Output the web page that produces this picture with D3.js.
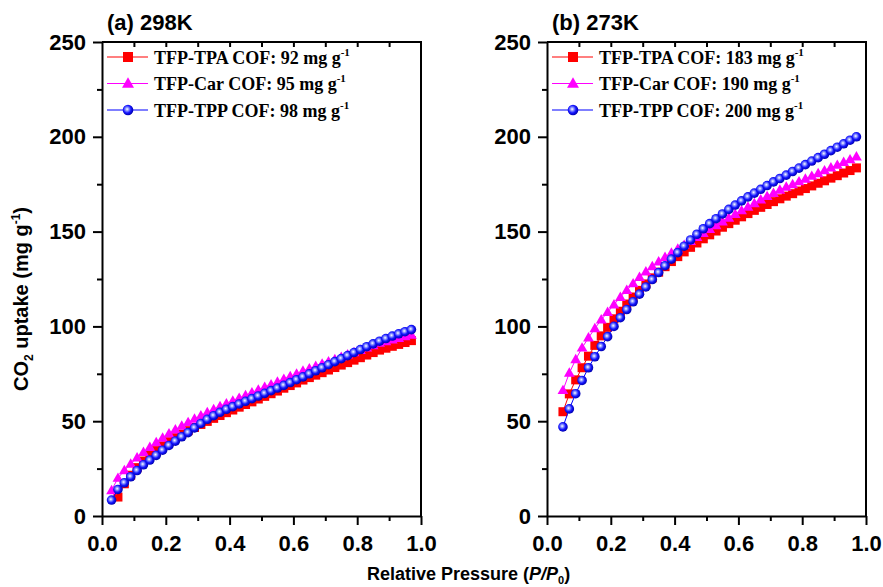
<!DOCTYPE html>
<html>
<head>
<meta charset="utf-8">
<script src="https://cdn.jsdelivr.net/npm/d3@7"></script>
<style>
  body { margin: 0; background: #fff; }
</style>
</head>
<body>
<div id="chart"></div>
<script>
// relative pressure (P/P0) for each isotherm
const pressureA = [0.03, 0.05, 0.07, 0.09, 0.11, 0.13, 0.15, 0.17, 0.19, 0.21, 0.23, 0.25, 0.27, 0.29, 0.31, 0.33,
    0.35, 0.37, 0.39, 0.41, 0.43, 0.45, 0.47, 0.49, 0.51, 0.53, 0.55, 0.57, 0.59, 0.61, 0.63, 0.65, 0.67, 0.69,
    0.71, 0.73, 0.75, 0.77, 0.79, 0.81, 0.83, 0.85, 0.87, 0.89, 0.91, 0.93, 0.95, 0.97];
const pressureATpa = pressureA.slice(1);
const pressureB = pressureA.slice(1);

// 298 K uptake (mg/g)
const tpaA = [10, 17, 21.5, 25.5, 29, 32, 34.5, 37, 39.2, 41.3, 43.2, 45, 46.7, 48.3, 49.9, 51.5, 53.0, 54.5,
    55.9, 57.4, 58.8, 60.2, 61.7, 63.1, 64.5, 65.9, 67.4, 68.8, 70.2, 71.7, 73.0, 74.3, 75.6, 77.0, 78.3, 79.6,
    80.9, 82.2, 83.5, 84.9, 86.2, 87.5, 88.5, 89.5, 90.5, 91.5, 92.5];
const carA = [13.5, 20, 24, 27.5, 30.8, 33.7, 36.3, 38.8, 41.2, 43.4, 45.5, 47.5, 49.4, 51.2, 52.9, 54.6, 56.2,
    57.8, 59.3, 60.7, 62.2, 63.6, 65.0, 66.5, 67.9, 69.3, 70.7, 72.2, 73.6, 75.0, 76.5, 77.7, 79.0, 80.2, 81.4,
    82.6, 83.8, 85.1, 86.3, 87.5, 88.7, 90.0, 91.2, 92.1, 93.0, 93.8, 94.7, 95.5];
const tppA = [8.4, 14, 17.5, 20.7, 24, 27, 29.5, 32, 34.7, 37.2, 39.5, 41.8, 44, 46.5, 48.8, 51, 52.9, 54.7,
    56.3, 57.7, 59.1, 60.5, 61.9, 63.3, 64.7, 66.1, 67.5, 68.9, 70.4, 71.9, 73.4, 75.0, 76.6, 78.2, 79.8, 81.4,
    83.0, 84.6, 86.2, 87.8, 89.3, 90.8, 92.2, 93.6, 94.9, 96.1, 97.2, 98.3];

// 273 K uptake (mg/g)
const tpaB = [55, 64.4, 71.8, 78.2, 84.3, 90, 95, 99.5, 104, 108, 111.8, 115.5, 119, 122.4, 125.6, 128.6, 131.5,
    134.2, 136.8, 139.3, 141.7, 144.0, 146.2, 148.3, 150.3, 152.3, 154.2, 156.0, 157.8, 159.5, 161.2, 162.8,
    164.3, 165.8, 167.3, 168.7, 170.0, 171.4, 172.7, 174.1, 175.5, 176.8, 178.2, 179.5, 180.9, 182.2, 183.6];
const carB = [66.3, 75.4, 82.6, 88.7, 94.0, 98.9, 103.5, 107.5, 111.5, 115.4, 119.1, 122.6, 126.0, 128.9, 131.6,
    134.1, 136.5, 138.7, 140.9, 142.9, 144.9, 147.0, 149.1, 151.2, 153.2, 155.2, 157.2, 159.2, 161.1, 163.0,
    164.9, 166.8, 168.6, 170.3, 172.0, 173.5, 174.9, 176.4, 177.8, 179.3, 180.7, 182.2, 183.7, 185.1, 186.6,
    188.0, 189.5];
const tppB = [47, 56.5, 64.5, 71.5, 78.2, 84, 89.4, 94.6, 100, 104.6, 108.9, 113, 117, 120.8, 124.7, 128.4, 132,
    135.5, 138.9, 142.3, 145.6, 148.6, 151.5, 154.2, 156.8, 159.3, 161.7, 164.0, 166.2, 168.3, 170.3, 172.3,
    174.3, 176.2, 178.0, 179.8, 181.7, 183.5, 185.3, 187.2, 189.0, 190.8, 192.7, 194.5, 196.3, 198.2, 200.0];

const seriesNames = ["TFP-TPA COF", "TFP-Car COF", "TFP-TPP COF"];
const capacityA = ["92", "95", "98"];
const capacityB = ["183", "190", "200"];
const xTicks = [0, 0.2, 0.4, 0.6, 0.8, 1.0];
const yTicks = [0, 50, 100, 150, 200, 250];

const colors = ["#ff0000", "#ff00ff", "#0000ff"];
const shapes = ["square", "triangle", "circle"];

const width = 883, height = 587;
const plotTop = 42, plotBottom = 516, plotW = 319;
const sans = "'Liberation Sans', Arial, sans-serif";
const serif = "'Liberation Serif', 'Times New Roman', serif";

const svg = d3.select("#chart").append("svg")
    .attr("width", width)
    .attr("height", height);

// shaded ball for the circle markers
const grad = svg.append("defs").append("radialGradient")
    .attr("id", "ball").attr("cx", "42%").attr("cy", "42%").attr("r", "58%");
grad.append("stop").attr("offset", "0%").attr("stop-color", "#ffffff");
grad.append("stop").attr("offset", "28%").attr("stop-color", "#8c95ff");
grad.append("stop").attr("offset", "62%").attr("stop-color", "#1515ff");
grad.append("stop").attr("offset", "100%").attr("stop-color", "#0000b0");

function drawMarker(g, shape, color, cx, cy, s) {
    if (shape === "square") {
        g.append("rect").attr("x", cx - s / 2).attr("y", cy - s / 2)
            .attr("width", s).attr("height", s).attr("fill", color);
    } else if (shape === "triangle") {
        const w = s * 1.2, h = s * 1.05;
        g.append("path")
            .attr("d", `M${cx},${cy - h * 0.6}L${cx + w / 2},${cy + h * 0.4}L${cx - w / 2},${cy + h * 0.4}Z`)
            .attr("fill", color);
    } else {
        g.append("circle").attr("cx", cx).attr("cy", cy).attr("r", s / 2 + 0.3)
            .attr("fill", "url(#ball)");
    }
}

const panels = [
    { x0: 102, title: "(a) 298K", caps: capacityA,
      series: [[pressureATpa, tpaA], [pressureA, carA], [pressureA, tppA]] },
    { x0: 547, title: "(b) 273K", caps: capacityB,
      series: [[pressureB, tpaB], [pressureB, carB], [pressureB, tppB]] }
];

panels.forEach(p => {
    const x = d3.scaleLinear().domain([0, 1]).range([p.x0, p.x0 + plotW]);
    const y = d3.scaleLinear().domain([0, 250]).range([plotBottom, plotTop]);
    const g = svg.append("g");

    // series: thin connecting line, then markers
    p.series.forEach(([px, py], i) => {
        const pts = px.map((v, k) => [v, py[k]]);
        g.append("path")
            .datum(pts)
            .attr("fill", "none")
            .attr("stroke", colors[i])
            .attr("stroke-width", 1)
            .attr("d", d3.line().x(d => x(d[0])).y(d => y(d[1])));
        const mg = g.append("g");
        pts.forEach(d => drawMarker(mg, shapes[i], colors[i], x(d[0]), y(d[1]), 9));
    });

    // frame
    g.append("path")
        .attr("d", `M${p.x0},${plotTop}H${p.x0 + plotW}V${plotBottom}`)
        .attr("fill", "none").attr("stroke", "#000").attr("stroke-width", 2);

    // top inner ticks
    const topAxis = g.append("g").attr("transform", `translate(0,${plotTop})`)
        .call(d3.axisBottom(x).tickValues(d3.range(1, 10).map(d => d / 10)).tickSize(5).tickFormat(""));
    topAxis.select(".domain").remove();

    // bottom axis
    const xMinor = g.append("g").attr("transform", `translate(0,${plotBottom})`)
        .call(d3.axisBottom(x).tickValues([0.1, 0.3, 0.5, 0.7, 0.9]).tickSize(5).tickFormat(""));
    xMinor.select(".domain").remove();
    const xAxis = g.append("g").attr("transform", `translate(0,${plotBottom})`)
        .call(d3.axisBottom(x).tickValues(xTicks).tickSize(9).tickSizeOuter(0).tickPadding(10)
            .tickFormat(d3.format(".1f")));

    // left axis
    const yMinor = g.append("g").attr("transform", `translate(${p.x0},0)`)
        .call(d3.axisLeft(y).tickValues([25, 75, 125, 175, 225]).tickSize(5).tickFormat(""));
    yMinor.select(".domain").remove();
    const yAxis = g.append("g").attr("transform", `translate(${p.x0},0)`)
        .call(d3.axisLeft(y).tickValues(yTicks).tickSize(9).tickSizeOuter(0).tickPadding(7));

    g.selectAll(".tick line").attr("stroke", "#000").attr("stroke-width", 2);
    g.selectAll(".domain").attr("stroke", "#000").attr("stroke-width", 2);
    [xAxis, yAxis].forEach(a => a.selectAll("text")
        .attr("fill", "#000")
        .style("font-family", sans).style("font-size", "22px").style("font-weight", "bold"));

    // title
    g.append("text").attr("x", p.x0 + 5).attr("y", 30)
        .style("font-family", sans).style("font-size", "22px").style("font-weight", "bold")
        .text(p.title);

    // legend
    seriesNames.forEach((name, i) => {
        const ly = 57 + i * 26.5;
        g.append("line").attr("x1", p.x0 + 5).attr("x2", p.x0 + 46)
            .attr("y1", ly).attr("y2", ly).attr("stroke", colors[i]).attr("stroke-width", 1.2);
        drawMarker(g, shapes[i], colors[i], p.x0 + 26, ly, 10);
        const t = g.append("text").attr("x", p.x0 + 52).attr("y", ly + 6.5)
            .style("font-family", serif).style("font-size", "18px").style("font-weight", "bold");
        t.append("tspan").text(`${name}: ${p.caps[i]} mg g`);
        t.append("tspan").attr("dy", -8).style("font-size", "11px").text("-1");
    });
});

// axis titles
const yl = svg.append("text")
    .attr("transform", "translate(28,299) rotate(-90)")
    .attr("text-anchor", "middle")
    .style("font-family", sans).style("font-size", "20px").style("font-weight", "bold");
yl.append("tspan").text("CO");
yl.append("tspan").attr("dy", 5).style("font-size", "12px").text("2");
yl.append("tspan").attr("dy", -5).text(" uptake (mg g");
yl.append("tspan").attr("dy", -8).style("font-size", "12px").text("-1");
yl.append("tspan").attr("dy", 8).text(")");

const xl = svg.append("text")
    .attr("x", 367).attr("y", 580)
    .style("font-family", sans).style("font-size", "18px").style("font-weight", "bold");
xl.append("tspan").text("Relative Pressure (");
xl.append("tspan").style("font-style", "italic").text("P/P");
xl.append("tspan").attr("dy", 4).style("font-size", "11px").text("0");
xl.append("tspan").attr("dy", -4).text(")");
</script>
</body>
</html>
